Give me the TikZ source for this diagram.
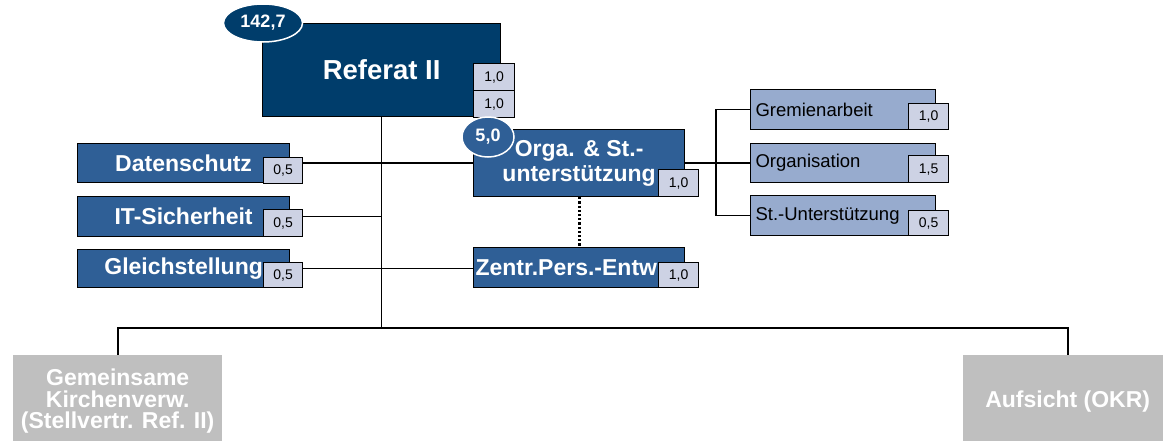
\documentclass[tikz,border=0pt]{standalone}
\usepackage{fontspec}
\setmainfont{Liberation Sans}
\usetikzlibrary{shapes.geometric,backgrounds}
\definecolor{navy}{RGB}{0,61,107}
\definecolor{midblue}{RGB}{47,95,150}
\definecolor{lightblue}{RGB}{151,171,206}
\definecolor{ftebg}{RGB}{205,210,228}
\definecolor{extgray}{RGB}{191,191,191}
\begin{document}
\begin{tikzpicture}[x=1pt,y=-1pt,
  box/.style={draw=black, line width=1.2pt, inner sep=0pt, anchor=north west},
  unit/.style={box, fill=navy, text=white, font=\bfseries\fontsize{27.5}{30}\selectfont},
  dept/.style={box, fill=midblue, text=white, minimum width=212, font=\bfseries\fontsize{23}{25}\selectfont},
  team/.style={box, fill=lightblue, text=black, text width=175pt, align=left, inner xsep=5pt, minimum height=40, font=\fontsize{18.5}{20}\selectfont},
  fte/.style={box, fill=ftebg, minimum width=40, minimum height=26, font=\fontsize{14}{15}\selectfont},
  total/.style={ellipse, draw=white, line width=1.5pt, text=white, inner sep=0pt, font=\bfseries\fontsize{18}{20}\selectfont},
  ext/.style={anchor=north west, fill=extgray, text=white, inner sep=0pt, align=center, minimum width=209, minimum height=92, font=\bfseries\fontsize{23}{21.5}\selectfont},
  link/.style={line width=1.7pt},
  dotline/.style={line width=3pt, dash pattern=on 2.2pt off 2pt}]
\useasboundingbox (0,0) rectangle (1163,440);
\clip (0,0) rectangle (1163,440);

% head of department
\node[unit, minimum width=238, minimum height=93] (ref) at (262,23) {Referat II};
\node[total, fill=navy, minimum width=79, minimum height=38] (reftot) at (263,23) {142,7};
\node[fte, minimum width=41, minimum height=27] (refa) at (473,63) {1,0};
\node[fte, minimum width=41, minimum height=27] (refb) at (473,90) {1,0};

% staff positions
\node[dept, minimum height=39] (ds) at (77,143) {Datenschutz};
\node[fte, minimum width=39] (dsv) at (263,157) {0,5};
\node[dept, minimum height=40] (it) at (77,196) {IT-Sicherheit};
\node[fte, minimum width=39, minimum height=27] (itv) at (263,209) {0,5};
\node[dept, minimum height=38] (gl) at (77,249) {Gleichstellung};
\node[fte, minimum width=39, minimum height=25] (glv) at (263,262) {0,5};

% organisation unit
\node[dept, minimum width=211, minimum height=67, align=center] (orga) at (473,129) {Orga. \& St.-\\unterstützung};
\node[fte, minimum height=27] (orgav) at (658,169) {1,0};
\node[total, fill=midblue, minimum width=52, minimum height=40] (orgatot) at (488,137) {5,0};
\node[dept, minimum width=211, minimum height=40, text width=207pt, align=left, inner xsep=2pt] (zentr) at (473,247) {Zentr.Pers.-Entw};
\node[fte, minimum height=25] (zentrv) at (658,262) {1,0};

% teams
\node[team] (grem) at (750,89) {Gremienarbeit};
\node[fte] (gremv) at (908,103) {1,0};
\node[team, minimum height=39] (orgn) at (750,143) {Organisation};
\node[fte, minimum height=27] (orgnv) at (908,155) {1,5};
\node[team] (stu) at (750,195) {St.-Unterstützung};
\node[fte, minimum height=25] (stuv) at (908,210) {0,5};

% external units
\node[ext] (gem) at (13,355) {Gemeinsame\\Kirchenverw.\\(Stellvertr. Ref. II)};
\node[ext] (aufs) at (963,355) {Aufsicht (OKR)};

\begin{scope}[on background layer]
  \coordinate (busy) at (0,328);
  \coordinate (bus) at (ref.south |- busy);
  \coordinate (forkx) at (716,0);
  \draw[link] (ref.south) -- (bus);
  \draw[link] (gem.north) |- (bus) -| (aufs.north);
  \draw[link] (ds.east) -- (ds.east -| orga.west);
  \draw[link] (it.east) -- (it.east -| ref.south);
  \draw[link] (gl.east) -- (gl.east -| zentr.west);
  \draw[link] (orga.east) -- (orgn.west);
  \draw[link] (grem.west) -- (grem.west -| forkx) -- (stu.west -| forkx) -- (stu.west);
  \draw[dotline] (orga.south) -- (zentr.north);
\end{scope}
\end{tikzpicture}
\end{document}
